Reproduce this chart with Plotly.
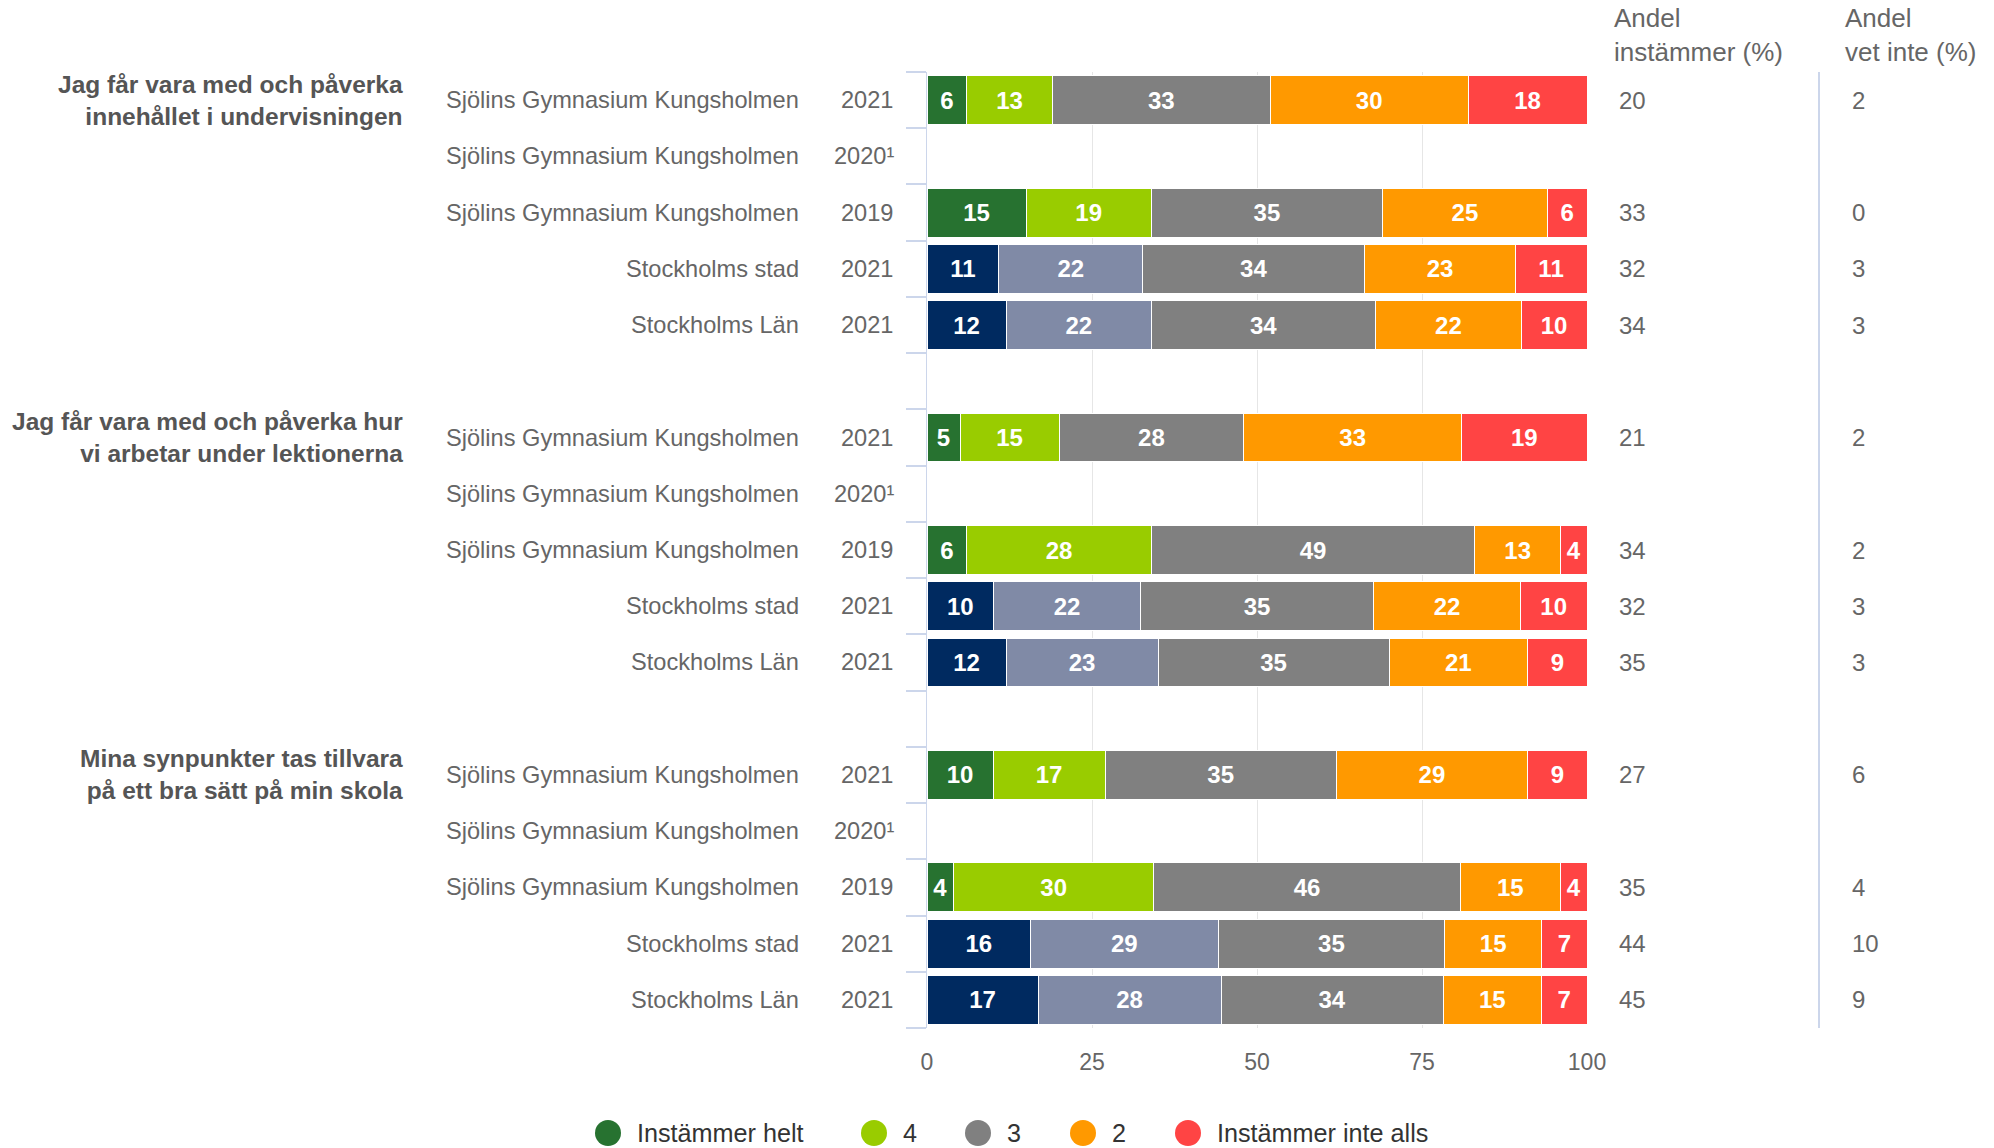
import plotly.graph_objects as go

# ---------------- data ----------------
questions = [
    "Jag får vara med och påverka<br>innehållet i undervisningen",
    "Jag får vara med och påverka hur<br>vi arbetar under lektionerna",
    "Mina synpunkter tas tillvara<br>på ett bra sätt på min skola",
]
units = ["Sjölins Gymnasium Kungsholmen", "Sjölins Gymnasium Kungsholmen",
         "Sjölins Gymnasium Kungsholmen", "Stockholms stad", "Stockholms Län"]
years = ["2021", "2020¹", "2019", "2021", "2021"]

series_names = ["Instämmer helt", "4", "3", "2", "Instämmer inte alls"]

helt = [6, None, 15, 11, 12,   5, None, 6, 10, 12,   10, None, 4, 16, 17]
v4 = [13, None, 19, 22, 22,   15, None, 28, 22, 23,   17, None, 30, 29, 28]
v3 = [33, None, 35, 34, 34,   28, None, 49, 35, 35,   35, None, 46, 35, 34]
v2 = [30, None, 25, 23, 22,   33, None, 13, 22, 21,   29, None, 15, 15, 15]
inte = [18, None, 6, 11, 10,   19, None, 4, 10, 9,   9, None, 4, 7, 7]

andel_instammer = [20, None, 33, 32, 34,   21, None, 34, 32, 35,   27, None, 35, 44, 45]
andel_vet_inte = [2, None, 0, 3, 3,   2, None, 2, 3, 3,   6, None, 4, 10, 9]

header_instammer = "Andel<br>instämmer (%)"
header_vet_inte = "Andel<br>vet inte (%)"
x_ticks = [0, 25, 50, 75, 100]

# ---------------- style ----------------
school_colors = ["#277230", "#99cc00", "#808080", "#ff9900", "#ff4444"]
compare_colors = ["#002a60", "#808aa6", "#808080", "#ff9900", "#ff4444"]
FONT = "Liberation Sans, Arial, sans-serif"
W, H = 1994, 1148
L, R, T, B = 927, 1587, 72, 1028  # plot area in px


def px_x(px):
    return (px - L) / (R - L)


def px_y(py):
    return (B - py) / (B - T)


n_per = len(units)
row_pos = []
for g in range(len(questions)):
    for i in range(n_per):
        row_pos.append(g * (n_per + 1) + i)
n_rows = len(questions) * (n_per + 1) - 1  # 17 rows (0..16)

fig = go.Figure()
all_series = [helt, v4, v3, v2, inte]
for s, (name, vals) in enumerate(zip(series_names, all_series)):
    colors = []
    for k in range(len(vals)):
        i = k % n_per
        colors.append(school_colors[s] if i < 3 else compare_colors[s])
    fig.add_trace(go.Bar(
        y=row_pos, x=vals, orientation="h", name=name,
        marker=dict(color=colors, line=dict(color="white", width=1)),
        width=0.87,
        text=[("" if v is None else str(v)) for v in vals],
        texttemplate="<b>%{text}</b>",
        textposition="inside", insidetextanchor="middle", textangle=0,
        textfont=dict(family=FONT, size=24, color="white"),
        showlegend=False, hoverinfo="skip",
    ))

annotations = []
# group titles
for g, q in enumerate(questions):
    annotations.append(dict(
        x=px_x(405), xref="paper", y=g * (n_per + 1), yref="y",
        text="<b>" + q + "</b>", showarrow=False, xanchor="right",
        yanchor="middle", align="right",
        font=dict(family=FONT, size=24.5, color="#555555"),
    ))
# category labels + years + values
for k, yp in enumerate(row_pos):
    i = k % n_per
    annotations.append(dict(
        x=px_x(801), xref="paper", y=yp, yref="y", text=units[i],
        showarrow=False, xanchor="right", yanchor="middle",
        font=dict(family=FONT, size=23.6, color="#666666"),
    ))
    annotations.append(dict(
        x=px_x(896), xref="paper", y=yp, yref="y", text=years[i],
        showarrow=False, xanchor="right", yanchor="middle",
        font=dict(family=FONT, size=23.6, color="#666666"),
    ))
    if andel_instammer[k] is not None:
        annotations.append(dict(
            x=px_x(1617), xref="paper", y=yp, yref="y",
            text=str(andel_instammer[k]), showarrow=False,
            xanchor="left", yanchor="middle",
            font=dict(family=FONT, size=24, color="#666666"),
        ))
    if andel_vet_inte[k] is not None:
        annotations.append(dict(
            x=px_x(1850), xref="paper", y=yp, yref="y",
            text=str(andel_vet_inte[k]), showarrow=False,
            xanchor="left", yanchor="middle",
            font=dict(family=FONT, size=24, color="#666666"),
        ))
# headers
for hx, ht in [(1612, header_instammer), (1843, header_vet_inte)]:
    annotations.append(dict(
        x=px_x(hx), xref="paper", y=px_y(69), yref="paper", text=ht,
        showarrow=False, xanchor="left", yanchor="bottom", align="left",
        font=dict(family=FONT, size=26, color="#666666"),
    ))

# manual legend
shapes = []
legend_circle_x = [608, 874, 978, 1083, 1188]
legend_y = 1133
rad = 13
for s, name in enumerate(series_names):
    cx = legend_circle_x[s]
    shapes.append(dict(
        type="circle", xref="paper", yref="paper",
        x0=px_x(cx - rad), x1=px_x(cx + rad),
        y0=px_y(legend_y + rad), y1=px_y(legend_y - rad),
        fillcolor=school_colors[s], line=dict(width=0),
    ))
    annotations.append(dict(
        x=px_x(cx + 27), xref="paper", y=px_y(legend_y), yref="paper",
        text=name, showarrow=False, xanchor="left", yanchor="middle",
        font=dict(family=FONT, size=25.2, color="#333333"),
    ))

# separator line between columns
shapes.append(dict(
    type="line", xref="paper", yref="paper",
    x0=px_x(1819), x1=px_x(1819), y0=0, y1=1,
    line=dict(color="#ccd6eb", width=2),
))

fig.update_layout(
    barmode="stack", barnorm="percent",
    width=W, height=H, autosize=False,
    margin=dict(l=L, r=W - R, t=T, b=H - B, pad=0),
    paper_bgcolor="white", plot_bgcolor="white",
    font=dict(family=FONT, size=24, color="#666666"),
    uniformtext=dict(minsize=22, mode="show"),
    annotations=annotations, shapes=shapes,
    xaxis=dict(
        range=[0, 100], tickvals=x_ticks, ticktext=[str(t) for t in x_ticks],
        showgrid=True, gridcolor="#e6e6e6", gridwidth=1, zeroline=False,
        showline=False, ticks="", tickfont=dict(family=FONT, size=23, color="#666666"),
        ticklabelstandoff=18, fixedrange=True,
    ),
    yaxis=dict(
        range=[n_rows - 0.5, -0.5],
        tickvals=[r - 0.5 for r in range(n_rows + 1)],
        showticklabels=False, ticks="outside", ticklen=20, tickwidth=2,
        tickcolor="#ccd6eb", showline=True, linecolor="#ccd6eb", linewidth=1,
        showgrid=False, zeroline=False, fixedrange=True,
    ),
    showlegend=False,
)

fig.write_html(
    "out.html",
    config={"displayModeBar": False},
    post_script="document.body.style.margin='0';document.body.style.overflow='hidden';",
)
